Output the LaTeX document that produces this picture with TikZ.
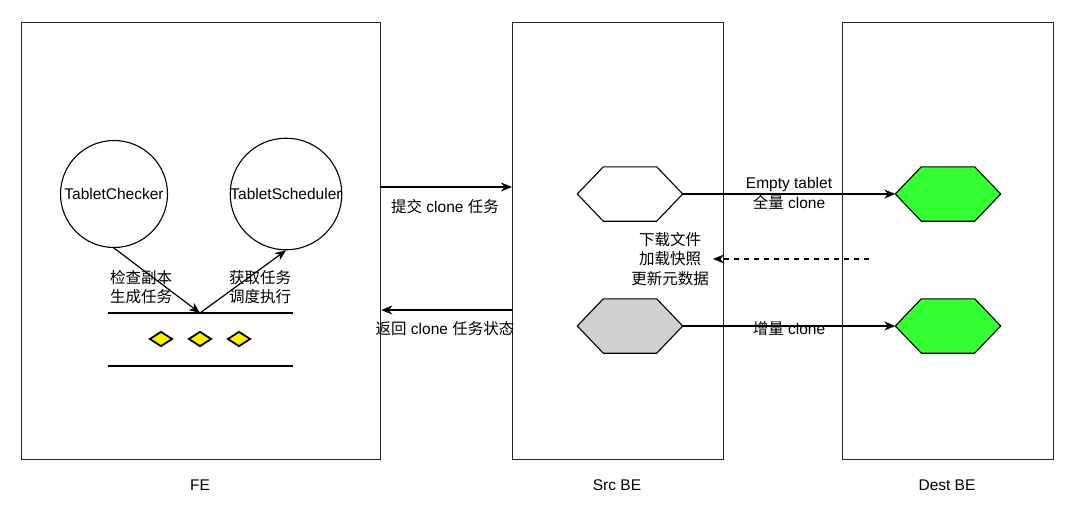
\documentclass[tikz,border=0pt]{standalone}
\usepackage{fontspec}
\setmainfont{Liberation Sans}
\newfontfamily\cjk{Noto Sans CJK SC}
\usetikzlibrary{arrows.meta,shapes.geometric,calc}
\newcommand\hexshape[2]{%
  \draw[line width=1.1pt, fill=#2] (#1.west) -- ($(#1.north west)+(26,0)$) -- ($(#1.north east)+(-26,0)$) -- (#1.east) -- ($(#1.south east)+(-26,0)$) -- ($(#1.south west)+(26,0)$) -- cycle;}
\definecolor{hexgreen}{HTML}{33FF33}
\definecolor{hexgray}{HTML}{D0D0D0}
\begin{document}
\begin{tikzpicture}[x=1pt,y=-1pt,
  every node/.style={inner sep=0pt, font=\fontsize{15.5pt}{19.5pt}\selectfont},
  ctxt/.style={align=center, font=\fontsize{15.5pt}{19.5pt}\selectfont\cjk},
  ltxt/.style={align=center},
  panel/.style={draw=black!85, line width=1.3pt, minimum height=437pt, anchor=north west},
  proc/.style={circle, draw=black, line width=1.1pt, minimum size=107pt},
  arr/.style={draw=black, line width=1.2pt, -{Stealth[length=11pt,width=9pt,inset=3.5pt]}},
  dasharr/.style={arr, dash pattern=on 5pt off 5pt},
  hexnode/.style={minimum width=105pt, minimum height=54pt, draw=none},
  diam/.style={diamond, draw=black, line width=1.8pt, fill=yellow, minimum width=23pt, minimum height=15pt},
  queue/.style={line width=2.8pt}
]
\useasboundingbox (0,0) rectangle (1080,511);
\fill[white] (0,0) rectangle (1080,511);

% panels
\node[panel, minimum width=359pt] (fe) at (21,22) {};
\node[panel, minimum width=211pt] (src) at (512,22) {};
\node[panel, minimum width=211pt] (dst) at (842,22) {};
\node (felbl) at (200,485) {FE};
\node (srclbl) at (617,485) {Src BE};
\node (dstlbl) at (947,485) {Dest BE};

% FE internals
\node[proc] (chk) at (114,194) {TabletChecker};
\node[proc] (sch) at (286,194) {TabletScheduler};
\coordinate (qtop) at (200,313);
\draw[queue] (108,313) -- (293,313);
\draw[queue] (108,366) -- (293,366);
\node[diam] (d1) at (161,339) {};
\node[diam] (d2) at (200,339) {};
\node[diam] (d3) at (239,339) {};
\draw[arr] (chk.south) -- (qtop);
\draw[arr] (qtop) -- (sch.south);
\node[ctxt] (l1) at (141,287) {检查副本\\生成任务};
\node[ctxt] (l2) at (260,287) {获取任务\\调度执行};

% FE <-> Src BE
\coordinate (subY) at (445,187);
\coordinate (retY) at (445,310);
\draw[arr] (fe.east |- subY) -- (src.west |- subY);
\node[ltxt] (sublbl) at (445,207) {{\cjk 提交} clone {\cjk 任务}};
\draw[arr] (src.west |- retY) -- (fe.east |- retY);
\node[ltxt] (retlbl) at (445,329) {{\cjk 返回} clone {\cjk 任务状态}};

% hexagons
\node[hexnode] (sh1) at (630,194) {};
\node[hexnode] (sh2) at (630,326) {};
\node[hexnode] (dh1) at (948,194) {};
\node[hexnode] (dh2) at (948,326) {};
\hexshape{sh1}{white}
\hexshape{sh2}{hexgray}
\hexshape{dh1}{hexgreen}
\hexshape{dh2}{hexgreen}

\draw[arr] (sh1.east) -- (dh1.west);
\node[ltxt] (fulllbl) at (789,193.5) {Empty tablet\\{\cjk 全量} clone};
\draw[arr] (sh2.east) -- (dh2.west);
\node[ltxt] (inclbl) at (789,329) {{\cjk 增量} clone};

% dashed return
\coordinate (dstart) at (869,259);
\coordinate (dend) at (713,259);
\draw[dasharr] (dstart) -- (dend);
\node[ctxt] (dl) at (670,259) {下载文件\\加载快照\\更新元数据};
\end{tikzpicture}
\end{document}
